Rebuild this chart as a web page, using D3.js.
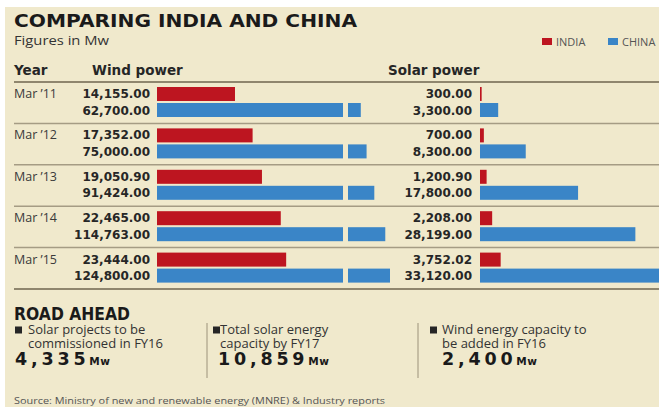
<!DOCTYPE html>
<html>
<head>
<meta charset="utf-8">
<script src="https://cdn.jsdelivr.net/npm/d3@7"></script>
<style>
  body { margin: 0; background: #fff; }
  svg { display: block; }
</style>
</head>
<body>
<div id="chart"></div>
<script>
// Data (Mw)
const years = ["Mar \u201911", "Mar \u201912", "Mar \u201913", "Mar \u201914", "Mar \u201915"];
const windIndia = [14155.00, 17352.00, 19050.90, 22465.00, 23444.00];
const windChina = [62700.00, 75000.00, 91424.00, 114763.00, 124800.00];
const solarIndia = [300.00, 700.00, 1200.90, 2208.00, 3752.02];
const solarChina = [3300.00, 8300.00, 17800.00, 28199.00, 33120.00];

const roadLabels = [
    ["Solar projects to be", "commissioned in FY16"],
    ["Total solar energy", "capacity by FY17"],
    ["Wind energy capacity to", "be added in FY16"]
];
const roadValues = [4335, 10859, 2400];

const width = 659;
const height = 411;
const red = "#bd1520";
const blue = "#3a85c7";
const ink = "#262626";
const rule = "#8f866e";

const svg = d3.select("#chart")
    .append("svg")
    .attr("width", width)
    .attr("height", height);

// beige panel
svg.append("rect")
    .attr("x", 5).attr("y", 7)
    .attr("width", width - 5).attr("height", 400)
    .attr("fill", "#f0e9cc");

// title block
svg.append("text")
    .attr("x", 14).attr("y", 27)
    .attr("font-family", "DejaVu Sans").attr("font-weight", "bold")
    .attr("font-size", 17.5).attr("fill", "#1a1a1a")
    .attr("textLength", 343).attr("lengthAdjust", "spacingAndGlyphs")
    .text("COMPARING INDIA AND CHINA");

svg.append("text")
    .attr("x", 14).attr("y", 45)
    .attr("font-family", "Open Sans").attr("font-size", 12.5)
    .attr("fill", "#333")
    .attr("textLength", 95).attr("lengthAdjust", "spacingAndGlyphs")
    .text("Figures in Mw");

// legend
const legend = svg.append("g").attr("font-family", "Open Sans").attr("font-size", 11).attr("fill", "#555");
[["INDIA", red, 542], ["CHINA", blue, 608]].forEach(([name, col, x]) => {
    legend.append("rect").attr("x", x).attr("y", 38).attr("width", 10).attr("height", 7).attr("fill", col);
    legend.append("text").attr("x", x + 14).attr("y", 45.5).text(name);
});

// headers
const headers = svg.append("g")
    .attr("font-family", "DejaVu Sans").attr("font-weight", "bold")
    .attr("font-size", 13.5).attr("fill", ink);
headers.append("text").attr("x", 14).attr("y", 75).text("Year");
headers.append("text").attr("x", 92).attr("y", 75).text("Wind power");
headers.append("text").attr("x", 388).attr("y", 75).text("Solar power");

// scales
const y = d3.scaleBand().domain(years).range([82, 289]);
const xWind = d3.scaleLinear().domain([0, 33760]).range([157, 343]);        // first part of broken axis
const xWindTail = d3.scaleLinear().domain([35500, 124800]).range([348, 390]); // after the break
const xSolar = d3.scaleLinear().domain([0, 33760]).range([480, 666]);

const barH = 14;
const fmt = d3.format(",.2f");

// row rules
svg.append("line").attr("x1", 14).attr("x2", width).attr("y1", 82).attr("y2", 82)
    .attr("stroke", rule).attr("stroke-width", 2);
years.forEach((yr, i) => {
    const yy = y(yr) + y.bandwidth();
    svg.append("line").attr("x1", 14).attr("x2", width).attr("y1", yy).attr("y2", yy)
        .attr("stroke", i === years.length - 1 ? rule : "#a59c84")
        .attr("stroke-width", i === years.length - 1 ? 2 : 1.5);
});

const rows = svg.selectAll("g.row")
    .data(years)
    .join("g")
    .attr("class", "row")
    .attr("transform", d => `translate(0,${y(d)})`);

rows.append("text")
    .attr("x", 14).attr("y", 16)
    .attr("font-family", "Open Sans").attr("font-size", 12.5).attr("fill", "#3a3a3a")
    .text(d => d);

// wind bars
rows.append("rect")
    .attr("x", xWind(0)).attr("y", 5)
    .attr("width", (d, i) => xWind(windIndia[i]) - xWind(0))
    .attr("height", barH).attr("fill", red);
rows.append("rect")
    .attr("x", xWind(0)).attr("y", 21)
    .attr("width", xWind.range()[1] - xWind(0))
    .attr("height", barH).attr("fill", blue);
rows.append("rect")
    .attr("x", xWindTail.range()[0]).attr("y", 21)
    .attr("width", (d, i) => xWindTail(windChina[i]) - xWindTail.range()[0])
    .attr("height", barH).attr("fill", blue);

// solar bars
rows.append("rect")
    .attr("x", xSolar(0)).attr("y", 5)
    .attr("width", (d, i) => xSolar(solarIndia[i]) - xSolar(0))
    .attr("height", barH).attr("fill", red);
rows.append("rect")
    .attr("x", xSolar(0)).attr("y", 21)
    .attr("width", (d, i) => xSolar(solarChina[i]) - xSolar(0))
    .attr("height", barH).attr("fill", blue);

// value labels
const labelAttrs = sel => sel
    .attr("text-anchor", "end")
    .attr("font-family", "DejaVu Sans").attr("font-weight", "bold")
    .attr("font-size", 12).attr("fill", ink);

rows.append("text").call(labelAttrs).attr("x", 150).attr("y", 16).text((d, i) => fmt(windIndia[i]));
rows.append("text").call(labelAttrs).attr("x", 150).attr("y", 32.5).text((d, i) => fmt(windChina[i]));
rows.append("text").call(labelAttrs).attr("x", 472).attr("y", 16).text((d, i) => fmt(solarIndia[i]));
rows.append("text").call(labelAttrs).attr("x", 472).attr("y", 32.5).text((d, i) => fmt(solarChina[i]));

// road ahead
svg.append("text")
    .attr("x", 14).attr("y", 319.5)
    .attr("font-family", "DejaVu Sans").attr("font-weight", "bold")
    .attr("font-size", 17).attr("fill", "#1a1a1a")
    .attr("textLength", 116).attr("lengthAdjust", "spacingAndGlyphs")
    .text("ROAD AHEAD");

const colSquare = [15, 213, 430];
const colText = [28, 220, 442];
const colNum = [15, 218, 442];

[207, 418].forEach(x => {
    svg.append("line").attr("x1", x).attr("x2", x).attr("y1", 323).attr("y2", 378)
        .attr("stroke", "#9c927a").attr("stroke-width", 1);
});

roadLabels.forEach((lines, i) => {
    svg.append("rect").attr("x", colSquare[i]).attr("y", 326.5).attr("width", 7).attr("height", 7).attr("fill", ink);
    lines.forEach((ln, j) => {
        svg.append("text")
            .attr("x", colText[i]).attr("y", 334 + j * 13.5)
            .attr("font-family", "Open Sans").attr("font-size", 13)
            .attr("fill", "#333")
            .text(ln);
    });
    const num = svg.append("text")
        .attr("x", colNum[i]).attr("y", 365)
        .attr("font-family", "DejaVu Sans").attr("font-weight", "bold")
        .attr("font-size", 17.5).attr("letter-spacing", 3.8).attr("fill", "#1a1a1a")
        .text(d3.format(",")(roadValues[i]));
    const w = num.node().getComputedTextLength();
    svg.append("text")
        .attr("x", colNum[i] + w).attr("y", 365)
        .attr("font-family", "DejaVu Sans").attr("font-weight", "bold")
        .attr("font-size", 10.5).attr("letter-spacing", 0.5).attr("fill", "#1a1a1a")
        .text("Mw");
});

svg.append("text")
    .attr("x", 14).attr("y", 404)
    .attr("font-family", "Open Sans").attr("font-size", 9.5).attr("fill", "#555")
    .attr("textLength", 371).attr("lengthAdjust", "spacingAndGlyphs")
    .text("Source: Ministry of new and renewable energy (MNRE) & Industry reports");
</script>
</body>
</html>
